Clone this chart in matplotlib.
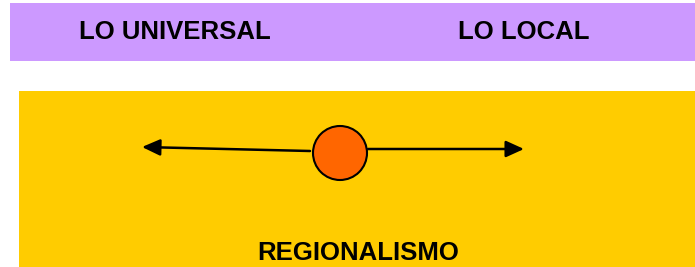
import matplotlib.pyplot as plt
from matplotlib.patches import Rectangle, Circle

# Texts of the diagram
header_labels = ['LO UNIVERSAL', 'LO LOCAL']
footer_label = 'REGIONALISMO'

W, H = 695, 267
fig = plt.figure(figsize=(W / 100, H / 100), dpi=100)
ax = fig.add_axes([0, 0, 1, 1])
ax.set_xlim(0, W)
ax.set_ylim(H, 0)
ax.axis('off')

font = dict(family=['Liberation Sans', 'DejaVu Sans'], fontweight='bold', fontsize=18.5)

# Header band
ax.add_patch(Rectangle((10, 3), 690, 58, facecolor='#CC99FF', edgecolor='none'))
for label, xc in zip(header_labels, [175, 524]):
    ax.text(xc, 32, label, ha='center', va='center', **font)

# Lower band
ax.add_patch(Rectangle((19, 91), 680, 180, facecolor='#FFCC00', edgecolor='none'))

# Arrows and center marker
arrow = dict(arrowstyle='-|>,head_length=1.1,head_width=0.5', color='black', lw=1.8,
             shrinkA=0, shrinkB=0)
ax.annotate('', xy=(142, 147), xytext=(310, 151), arrowprops=arrow)
ax.annotate('', xy=(524, 149), xytext=(368, 149), arrowprops=arrow)
ax.add_patch(Circle((340, 153), 27, facecolor='#FF6600', edgecolor='black', lw=1.5, zorder=3))

ax.text(358, 253, footer_label, ha='center', va='center', **font)

fig.savefig('out.png', dpi=100)
